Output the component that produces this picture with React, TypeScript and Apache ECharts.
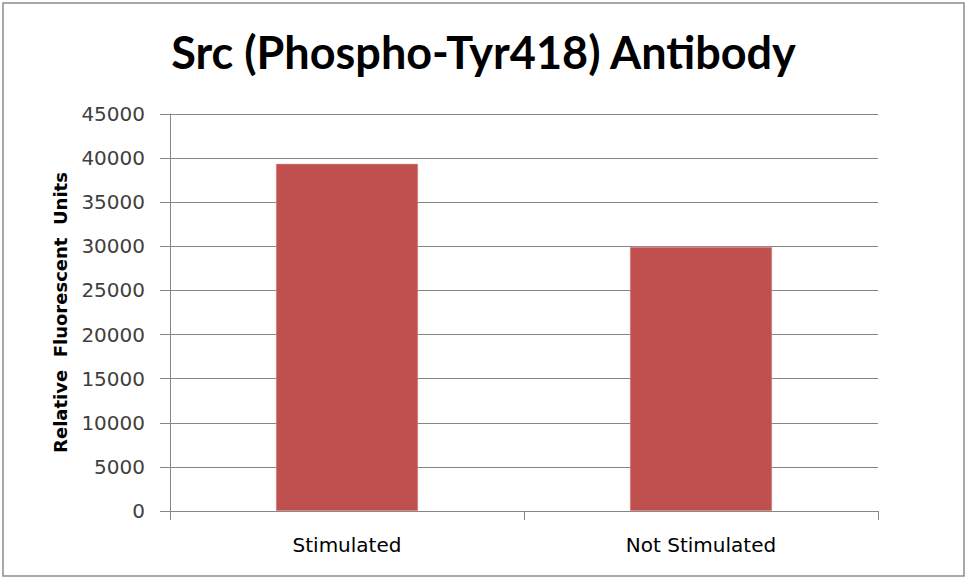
import React, { useEffect, useRef } from "react";
import * as echarts from "echarts";

const categories = ["Stimulated", "Not Stimulated"];
const values = [39350, 29930];
const titleText = "Src (Phospho-Tyr418) Antibody";
const yAxisName = "Relative  Fluorescent  Units";

export default function App() {
  const ref = useRef<HTMLDivElement>(null);
  useEffect(() => {
    document.body.style.margin = "0";
    const chart = echarts.init(ref.current!, null, { renderer: "svg" });
    chart.setOption({
      animation: false,
      backgroundColor: "#ffffff",
      title: {
        text: titleText,
        left: "center",
        top: 24,
        textStyle: { fontFamily: "Lato", fontWeight: "bold", fontSize: 45, color: "#000000" },
      },
      graphic: [
        {
          type: "rect",
          shape: { x: 3, y: 3, width: 961, height: 573 },
          style: { fill: "none", stroke: "#8c8c8c", lineWidth: 1.5 },
          silent: true,
        },
      ],
      grid: { left: 170, right: 89, top: 114, bottom: 68, containLabel: false },
      xAxis: {
        type: "category",
        data: categories,
        axisLine: { lineStyle: { color: "#868686", width: 1 } },
        axisTick: { show: true, length: 9, lineStyle: { color: "#868686" } },
        axisLabel: { fontFamily: "DejaVu Sans", fontSize: 20, color: "#000000", margin: 24 },
      },
      yAxis: {
        type: "value",
        min: 0,
        max: 45000,
        interval: 5000,
        name: yAxisName,
        nameLocation: "middle",
        nameRotate: 90,
        nameGap: 101,
        nameTextStyle: { fontFamily: "DejaVu Sans", fontWeight: "bold", fontSize: 18, color: "#000000" },
        axisLine: { show: true, lineStyle: { color: "#868686", width: 1 } },
        axisTick: { show: true, length: 10, lineStyle: { color: "#868686" } },
        axisLabel: {
          fontFamily: "DejaVu Sans",
          fontSize: 20,
          color: "#404040",
          margin: 25,
          formatter: (v: number) => String(v),
        },
        splitLine: { lineStyle: { color: "#868686", width: 1 } },
      },
      series: [
        {
          type: "bar",
          data: values,
          barWidth: 142,
          itemStyle: { color: "#C0504D", borderColor: "#d99694", borderWidth: 0.5 },
        },
      ],
    });
    return () => chart.dispose();
  }, []);
  return <div ref={ref} style={{ width: 967, height: 579 }} />;
}
